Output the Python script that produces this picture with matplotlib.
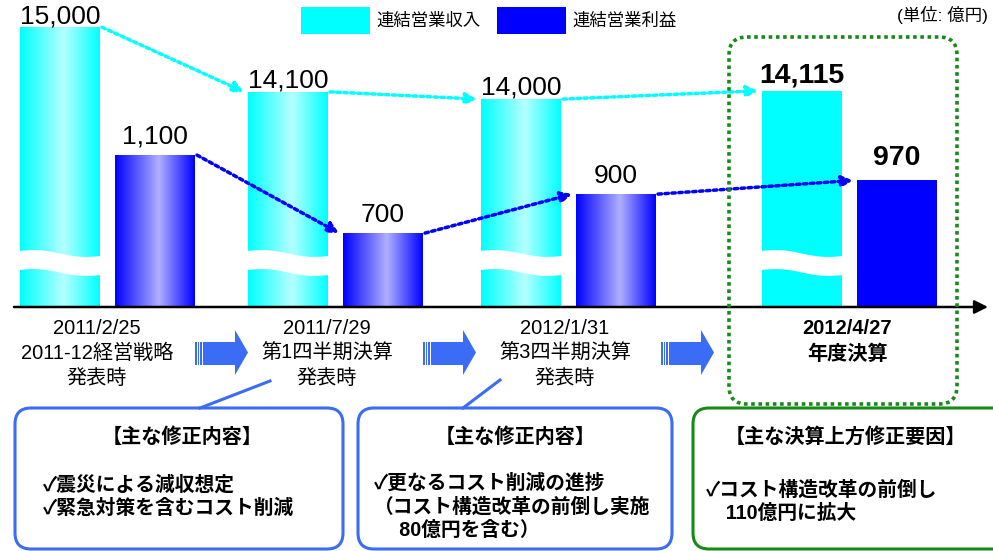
import numpy as np
import matplotlib
matplotlib.use("Agg")
import matplotlib.pyplot as plt
from matplotlib.colors import LinearSegmentedColormap
from matplotlib.patches import Rectangle, FancyBboxPatch, Polygon

plt.rcParams['font.family'] = ['Liberation Sans', 'Noto Sans CJK JP', 'DejaVu Sans']

# ===================== data =====================
periods = ["2011/2/25\n2011-12経営戦略\n発表時",
           "2011/7/29\n第1四半期決算\n発表時",
           "2012/1/31\n第3四半期決算\n発表時",
           "2012/4/27\n年度決算"]
revenue = [15000, 14100, 14000, 14115]   # 連結営業収入 (億円)
profit = [1100, 700, 900, 970]           # 連結営業利益 (億円)
series_names = ["連結営業収入", "連結営業利益"]
unit_label = "(単位: 億円)"
box_titles = ["【主な修正内容】", "【主な修正内容】", "【主な決算上方修正要因】"]
box_items = [
    ["✓震災による減収想定", "✓緊急対策を含むコスト削減"],
    ["✓更なるコスト削減の進捗", "（コスト構造改革の前倒し実施", "　 80億円を含む）"],
    ["✓コスト構造改革の前倒し", "　110億円に拡大"],
]

# ===================== layout =====================
W, H = 993, 551
BASE = 307                      # pixel row of the category axis
bar_left = [20, 248, 481, 762]  # left edge of each revenue bar (px)
bar_w = 80
pro_shift = 95
label_x = [97, 327, 565, 847]
arrow_x = [195, 423, 661]

CYAN, CYAN_L = "#00ffff", "#b4ffff"
BLUE, BLUE_L = "#0000ff", "#b0b0ff"
ARROW_BLUE = "#3a6cf6"
GREEN = "#178a17"

# broken value axes: separate scale for revenue and profit
rev_lo, rev_px = 11104, 0.0718
pro_lo, pro_px = 321, 0.195

fig = plt.figure(figsize=(W / 100, H / 100), dpi=100)
rect = [0, 1 - BASE / H, 1, BASE / H]
ax_rev = fig.add_axes(rect)
ax_pro = fig.add_axes(rect)
ax_pro.patch.set_alpha(0)


def set_limits():
    for a, lo, px in ((ax_rev, rev_lo, rev_px), (ax_pro, pro_lo, pro_px)):
        a.set_xlim(0, W)
        a.set_ylim(lo, lo + BASE / px)
        a.axis("off")


set_limits()

rev_x = np.array(bar_left)
pro_x = rev_x + pro_shift

rev_bars = ax_rev.bar(rev_x, revenue, width=bar_w, align="edge", color=CYAN, lw=0)
pro_bars = ax_pro.bar(pro_x, profit, width=bar_w, align="edge", color=BLUE, lw=0)


def gradient(ax, patch, x0, top, lo, edge, light):
    cmap = LinearSegmentedColormap.from_list("g", [(0, edge), (0.55, light), (1, edge)])
    im = ax.imshow(np.linspace(0, 1, 256)[None, :], cmap=cmap, aspect="auto",
                   extent=(x0, x0 + bar_w, lo, top), interpolation="bilinear", zorder=2)
    im.set_clip_path(patch)


# first three bars have a gradient fill, the final result is flat
for i in range(3):
    gradient(ax_rev, rev_bars[i], rev_x[i], revenue[i], rev_lo, CYAN, CYAN_L)
    gradient(ax_pro, pro_bars[i], pro_x[i], profit[i], pro_lo, BLUE, BLUE_L)
set_limits()

# value labels
for a, xs, vals, off in ((ax_rev, rev_x, revenue, 3), (ax_pro, pro_x, profit, 8)):
    for i, v in enumerate(vals):
        bold = i == 3
        a.annotate(f"{v:,}", (xs[i] + bar_w / 2, v), xytext=(0, off + (3 if bold else 0)),
                   textcoords="offset points", ha="center", va="baseline",
                   fontsize=20.5 if bold else 19, fontweight="bold" if bold else "normal")

# dotted trend arrows between bar tops
for a, xs, vals, col in ((ax_rev, rev_x, revenue, CYAN), (ax_pro, pro_x, profit, BLUE)):
    for i in range(3):
        a.annotate("", xy=(xs[i + 1] - 4, vals[i + 1]), xytext=(xs[i] + bar_w + 2, vals[i]),
                   arrowprops=dict(arrowstyle="-|>", color=col, lw=2.5, ls=(0, (1, 1)),
                                   mutation_scale=16, shrinkA=0, shrinkB=0))

# ===================== overlay in pixel coords =====================
ax = fig.add_axes([0, 0, 1, 1])
ax.set_xlim(0, W)
ax.set_ylim(H, 0)
ax.patch.set_alpha(0)
ax.axis("off")

# wavy break marks on revenue bars
t = np.linspace(0, 1, 60)
for x0 in rev_x:
    top = 251 + 5 * t - 2 * np.sin(2 * np.pi * t)
    xs = x0 - 1 + t * (bar_w + 2)
    ax.add_patch(Polygon(np.r_[np.c_[xs, top], np.c_[xs[::-1], top[::-1] + 19]],
                         closed=True, fc="white", ec="none", zorder=3))

# category axis
ax.annotate("", xy=(988, BASE), xytext=(14, BASE),
            arrowprops=dict(arrowstyle="-|>", color="black", lw=1.8,
                            mutation_scale=20, shrinkA=0, shrinkB=0), zorder=4)

# legend
ax.add_patch(Rectangle((301, 7), 69, 27, color=CYAN, lw=0))
ax.text(376, 20.5, series_names[0], fontsize=12.5, va="center")
ax.add_patch(Rectangle((497, 7), 69, 27, color=BLUE, lw=0))
ax.text(572, 20.5, series_names[1], fontsize=12.5, va="center")
ax.text(988, 15, unit_label, fontsize=12.5, ha="right", va="center")

# period labels
for i, lab in enumerate(periods):
    bold = i == 3
    ax.text(label_x[i], 319, lab, ha="center", va="top", fontsize=14.5, linespacing=1.4,
            fontweight="bold" if bold else "normal")

# block arrows between periods
for x in arrow_x:
    for k in range(3):
        ax.add_patch(Rectangle((x + k * 2.7, 342), 1.6, 23, color=ARROW_BLUE, lw=0))
    ax.add_patch(Polygon([(x + 8, 342), (x + 40, 342), (x + 40, 330), (x + 53, 352.5),
                          (x + 40, 375), (x + 40, 365), (x + 8, 365)],
                         closed=True, color=ARROW_BLUE, lw=0))

# highlight of the final result
ax.add_patch(FancyBboxPatch((729, 37), 228, 367, boxstyle="round,pad=0,rounding_size=18",
                            fill=False, ec=GREEN, lw=2.6, ls=(0, (1, 1)), zorder=5))

# callout boxes
boxes = [(15, 328, ARROW_BLUE), (358, 314, ARROW_BLUE), (693, 330, GREEN)]
for x0, w, col in boxes:
    ax.add_patch(FancyBboxPatch((x0, 408), w, 141, boxstyle="round,pad=0,rounding_size=16",
                                fill=True, fc="white", ec=col, lw=2.2, zorder=5))
ax.plot([200, 270], [408, 381], color=ARROW_BLUE, lw=2.2, zorder=5)
ax.plot([463, 500], [408, 380], color=ARROW_BLUE, lw=2.2, zorder=5)

title_x = [182, 515, 845]
item_x = [43, 374, 706]
item_y = [496.5, 506.5, 501.5]
for i in range(3):
    ax.text(title_x[i], 437, box_titles[i], ha="center", va="center",
            fontsize=14.5, fontweight="bold", zorder=6)
    ax.text(item_x[i], item_y[i], "\n".join(box_items[i]), ha="left", va="center",
            fontsize=14.2, fontweight="bold", linespacing=1.3, zorder=6)

fig.savefig("out.png", dpi=100)
